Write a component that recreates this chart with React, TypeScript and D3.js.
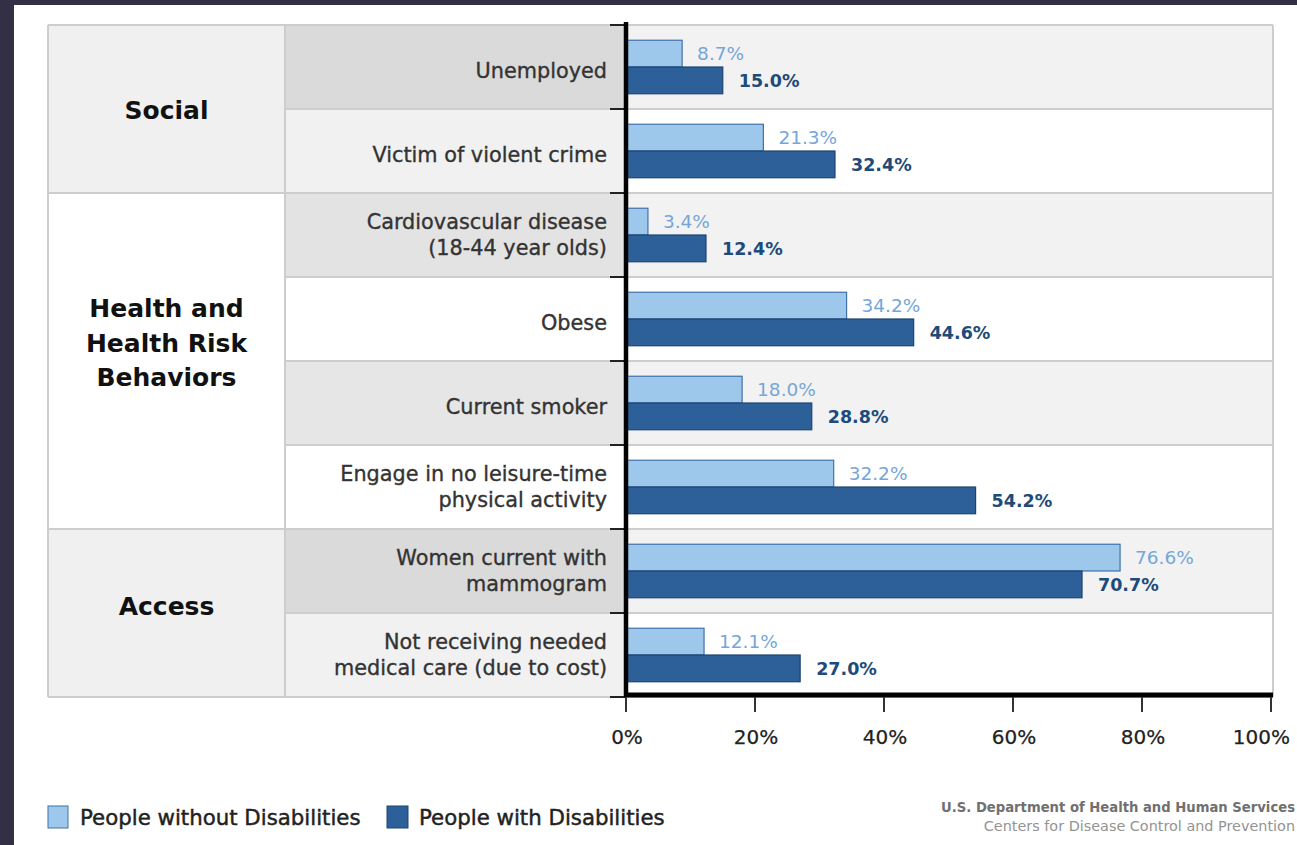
import React from "react";
import * as d3 from "d3";

// ---- data ----
const categories: string[][] = [
  ["Unemployed"],
  ["Victim of violent crime"],
  ["Cardiovascular disease", "(18-44 year olds)"],
  ["Obese"],
  ["Current smoker"],
  ["Engage in no leisure-time", "physical activity"],
  ["Women current with", "mammogram"],
  ["Not receiving needed", "medical care (due to cost)"],
];
const withoutDisabilities: number[] = [8.7, 21.3, 3.4, 34.2, 18.0, 32.2, 76.6, 12.1];
const withDisabilities: number[] = [15.0, 32.4, 12.4, 44.6, 28.8, 54.2, 70.7, 27.0];
const groupNames: string[][] = [["Social"], ["Health and", "Health Risk", "Behaviors"], ["Access"]];
const groupSizes: number[] = [2, 4, 2];
const tickValues: number[] = [0, 20, 40, 60, 80, 100];
const tickLabels: string[] = ["0%", "20%", "40%", "60%", "80%", "100%"];
const legendLabels: string[] = ["People without Disabilities", "People with Disabilities"];
const sourceLines: string[] = ["U.S. Department of Health and Human Services", "Centers for Disease Control and Prevention"];

// ---- style ----
const W = 1297, H = 845;
const FONT = "'DejaVu Sans', sans-serif";
const LIGHT = "#9dc8ec", LIGHT_STROKE = "#3f72aa";
const DARK = "#2d6098", DARK_STROKE = "#1c4472";
const LIGHT_TXT = "#76a6d8", DARK_TXT = "#1d4b7a";
const labelCellFill = ["#dadada", "#f1f1f1", "#e3e3e3", "#ffffff", "#e6e6e6", "#ffffff", "#dadada", "#f1f1f1"];
const groupFill = ["#f0f0f0", "#ffffff", "#f0f0f0"];
const groupLabelDy = [1, -18, -7];
const GRID = "#cdcdcd";

const tableLeft = 48, groupRight = 285, axisX = 626, tableRight = 1273;
const tableTop = 25, tableBottom = 697;

export default function App() {
  const x = d3.scaleLinear().domain([0, 100]).range([axisX, 1271]);
  const y = d3.scaleBand<number>().domain(d3.range(categories.length)).range([tableTop, tableBottom]).paddingInner(0);
  const bw = y.bandwidth();
  const sub = d3.scaleBand<string>().domain(["without", "with"]).range([0, bw]).paddingInner(0).paddingOuter(0.57);
  const sb = sub.bandwidth();

  const groupStarts: number[] = [];
  let acc = 0;
  groupSizes.forEach((s) => { groupStarts.push(acc); acc += s; });

  return (
    <div style={{ position: "absolute", left: 0, top: 0 }}>
      <svg width={W} height={H} style={{ display: "block" }} fontFamily={FONT}>
        <rect x={0} y={0} width={W} height={H} fill="#ffffff" />
        <rect x={0} y={0} width={W} height={5} fill="#332f45" />
        <rect x={0} y={0} width={14} height={H} fill="#332f45" />

        {/* chart area row backgrounds */}
        {categories.map((_, i) => (
          <rect key={"bg" + i} x={axisX} y={y(i)!} width={tableRight - axisX} height={bw}
            fill={i % 2 === 0 ? "#f2f2f2" : "#ffffff"} />
        ))}
        {/* label cells */}
        {categories.map((_, i) => (
          <rect key={"lc" + i} x={groupRight} y={y(i)!} width={axisX - groupRight} height={bw} fill={labelCellFill[i]} />
        ))}
        {/* group cells */}
        {groupNames.map((_, g) => (
          <rect key={"gc" + g} x={tableLeft} y={y(groupStarts[g])!} width={groupRight - tableLeft}
            height={bw * groupSizes[g]} fill={groupFill[g]} />
        ))}

        {/* grid lines */}
        {d3.range(categories.length + 1).map((i) => {
          const yy = i < categories.length ? y(i)! : tableBottom;
          const isGroupEdge = i === 0 || i === categories.length || groupStarts.includes(i);
          return (
            <line key={"gl" + i} x1={isGroupEdge ? tableLeft : groupRight} x2={tableRight} y1={yy} y2={yy}
              stroke={GRID} strokeWidth={2} />
          );
        })}
        {[tableLeft, groupRight, tableRight].map((xx, i) => (
          <line key={"vl" + i} x1={xx} x2={xx} y1={tableTop} y2={tableBottom} stroke={GRID} strokeWidth={2} />
        ))}

        {/* group labels */}
        {groupNames.map((lines, g) => {
          const cy = y(groupStarts[g])! + (bw * groupSizes[g]) / 2 + groupLabelDy[g];
          const lh = 34.5;
          return (
            <text key={"gn" + g} x={(tableLeft + groupRight) / 2} textAnchor="middle" fontWeight="bold"
              fontSize={25} fill="#111">
              {lines.map((l, k) => (
                <tspan key={k} x={(tableLeft + groupRight) / 2}
                  y={cy + (k - (lines.length - 1) / 2) * lh} dominantBaseline="central">{l}</tspan>
              ))}
            </text>
          );
        })}

        {/* category labels */}
        {categories.map((lines, i) => {
          const cy = y(i)! + bw / 2 + (lines.length === 1 ? 4 : 0);
          const lh = 26;
          return (
            <text key={"cl" + i} textAnchor="end" fontSize={20.8} fill="#333" stroke="#333" strokeWidth={0.35}>
              {lines.map((l, k) => (
                <tspan key={k} x={607} y={cy + (k - (lines.length - 1) / 2) * lh} dominantBaseline="central">{l}</tspan>
              ))}
            </text>
          );
        })}

        {/* bars */}
        {withoutDisabilities.map((v, i) => (
          <rect key={"b0" + i} x={x(0)} y={y(i)! + sub("without")!} width={x(v) - x(0)} height={sb}
            fill={LIGHT} stroke={LIGHT_STROKE} strokeWidth={1.2} />
        ))}
        {withDisabilities.map((v, i) => (
          <rect key={"b1" + i} x={x(0)} y={y(i)! + sub("with")!} width={x(v) - x(0)} height={sb}
            fill={DARK} stroke={DARK_STROKE} strokeWidth={1.2} />
        ))}
        {withoutDisabilities.map((v, i) => (
          <text key={"t0" + i} x={x(v) + 15} y={y(i)! + sub("without")! + sb / 2} dominantBaseline="central"
            fontSize={18.5} fill={LIGHT_TXT}>{v.toFixed(1) + "%"}</text>
        ))}
        {withDisabilities.map((v, i) => (
          <text key={"t1" + i} x={x(v) + 16} y={y(i)! + sub("with")! + sb / 2 + 1} dominantBaseline="central"
            fontSize={17.5} fontWeight="bold" fill={DARK_TXT}>{v.toFixed(1) + "%"}</text>
        ))}

        {/* left ticks at row boundaries */}
        {d3.range(categories.length + 1).map((i) => {
          const yy = i < categories.length ? y(i)! : tableBottom;
          return <line key={"lt" + i} x1={610} x2={axisX} y1={yy} y2={yy} stroke="#222" strokeWidth={2} />;
        })}

        {/* axes */}
        <line x1={axisX} x2={axisX} y1={tableTop - 3} y2={tableBottom} stroke="#000" strokeWidth={4.5} />
        <line x1={axisX - 2} x2={tableRight} y1={tableBottom - 2} y2={tableBottom - 2} stroke="#000" strokeWidth={5} />
        {tickValues.map((t, i) => {
          const last = i === tickValues.length - 1;
          return (
            <g key={"xt" + i}>
              <line x1={x(t)} x2={x(t)} y1={tableBottom} y2={712} stroke="#333" strokeWidth={2} />
              <text x={last ? 1290 : x(t) + 1} y={737} textAnchor={last ? "end" : "middle"} dominantBaseline="central"
                fontSize={20} fill="#222" stroke="#222" strokeWidth={0.25}>
                {tickLabels[i]}
              </text>
            </g>
          );
        })}

        {/* legend */}
        <rect x={48} y={806} width={20} height={22} fill={LIGHT} stroke={LIGHT_STROKE} strokeWidth={1} />
        <text x={80} y={817} dominantBaseline="central" fontSize={21.3} fill="#222" stroke="#222" strokeWidth={0.45}>{legendLabels[0]}</text>
        <rect x={387} y={806} width={21} height={22} fill={DARK} stroke={DARK_STROKE} strokeWidth={1} />
        <text x={419} y={817} dominantBaseline="central" fontSize={21.3} fill="#222" stroke="#222" strokeWidth={0.45}>{legendLabels[1]}</text>

        {/* source */}
        <text x={1295} y={807} textAnchor="end" dominantBaseline="central" fontSize={13.2} fontWeight="bold"
          fill="#707070">{sourceLines[0]}</text>
        <text x={1295} y={826} textAnchor="end" dominantBaseline="central" fontSize={14.4}
          fill="#939393">{sourceLines[1]}</text>
      </svg>
    </div>
  );
}
